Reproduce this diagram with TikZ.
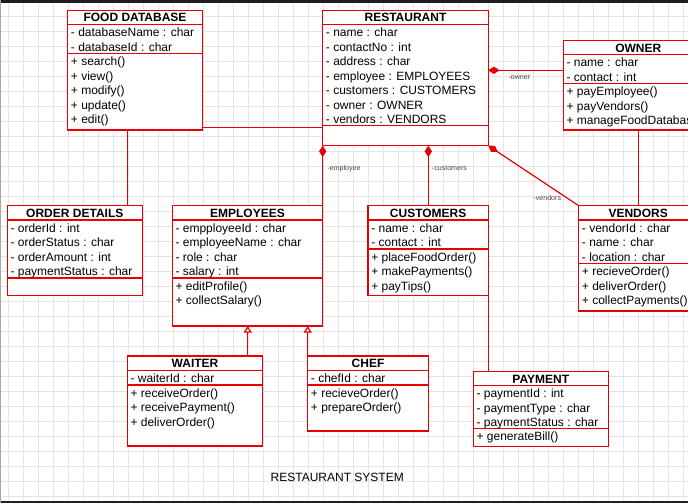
\documentclass[tikz,border=0pt]{standalone}
\usepackage{fontspec}
\setmainfont{Liberation Sans}
\usetikzlibrary{arrows.meta}
\definecolor{rline}{RGB}{230,0,0}
\definecolor{gridc}{RGB}{228,228,228}
\definecolor{lblc}{RGB}{70,70,70}
\definecolor{bandc}{RGB}{30,30,30}
\tikzset{
  cls/.style={draw=rline, line width=0.9pt, fill=white, inner sep=0pt, outer sep=0pt, rectangle},
  rl/.style={draw=rline, line width=0.9pt},
  hdr/.style={anchor=base, inner sep=0pt, font=\fontsize{9}{10}\selectfont\bfseries},
  txt/.style={anchor=base west, inner sep=0pt, font=\fontsize{9}{10}\selectfont},
  lbl/.style={anchor=west, inner sep=0pt, text=lblc, font=\fontsize{5.3}{6}\selectfont},
  diam/.style={rl, {Diamond[length=8.5pt,width=5.5pt]}-},
  inh/.style={rl, -{Triangle[open,length=5pt,width=6pt,fill=white]}},
}
\newcommand\umlclass[8]{%
  \node[cls, minimum width={(#4-#2)*0.75pt}, minimum height={(#5-#3)*0.75pt}] (#1) at ({(#2+#4)/2},{(#3+#5)/2}) {};
  \draw[rl] (#2,#6) -- (#4,#6);
  \draw[rl] (#2,#7) -- (#4,#7);
  \node[hdr] (#1-title) at ({(#2+#4)/2},{#3+11.6}) {#8};
}
\newcommand\umllines[4]{%
  \foreach \t [count=\i from 0] in {#4} {
    \node[txt] (#1-\i) at ({#2+3},{#3+12.2+14.5*\i}) {\t};
  }
}
\begin{document}
\begin{tikzpicture}[x=0.75pt,y=-0.75pt]
\useasboundingbox (0,0) rectangle (688,503);
\clip (0,0) rectangle (688,503);
\fill[white] (0,0) rectangle (688,503);
% grid
\foreach \gx in {0,...,45} { \draw[gridc, line width=0.75pt] ({8.3+15*\gx},0) -- ({8.3+15*\gx},503); }
\foreach \gy in {0,...,33} { \draw[gridc, line width=0.75pt] (0,{1.7+15*\gy}) -- (688,{1.7+15*\gy}); }
\fill[bandc] (0,0) rectangle (688,3);
\fill[bandc] (0,500.5) rectangle (688,503);
\fill[gray!70] (0,0) rectangle (1,503);

% classes
\umlclass{fooddb}{67.7}{10.3}{202.3}{130}{24.3}{53.3}{FOOD DATABASE}
\umllines{fooddb-a}{67.7}{24.3}{- databaseName : char, - databaseId : char}
\umllines{fooddb-m}{67.7}{53.3}{+ search(), + view(), + modify(), + update(), + edit()}

\umlclass{rest}{322.7}{10.3}{488.3}{145.7}{24.3}{125.7}{RESTAURANT}
\umllines{rest-a}{322.7}{24.3}{- name : char, - contactNo : int, - address : char, - employee : EMPLOYEES, - customers : CUSTOMERS, - owner : OWNER, - vendors : VENDORS}

\umlclass{owner}{563.3}{40.7}{713.3}{130}{54.3}{83.3}{OWNER}
\umllines{owner-a}{563.3}{54.3}{- name : char, - contact : int}
\umllines{owner-m}{563.3}{83.3}{+ payEmployee(), + payVendors(), + manageFoodDatabase()}

\umlclass{orderdet}{7.3}{205.7}{142.3}{295.7}{220}{278}{ORDER DETAILS}
\umllines{orderdet-a}{7.3}{220}{- orderId : int, - orderStatus : char, - orderAmount : int, - paymentStatus : char}

\umlclass{employees}{172.3}{205.7}{322.7}{326}{220}{278}{EMPLOYEES}
\umllines{employees-a}{172.3}{220}{- empployeeId : char, - employeeName : char, - role : char, - salary : int}
\umllines{employees-m}{172.3}{278}{+ editProfile(), + collectSalary()}

\umlclass{customers}{368}{205.7}{488.3}{295.7}{220}{249}{CUSTOMERS}
\umllines{customers-a}{368}{220}{- name : char, - contact : int}
\umllines{customers-m}{368}{249}{+ placeFoodOrder(), + makePayments(), + payTips()}

\umlclass{vendors}{578.7}{205.7}{697.7}{311}{220}{263.3}{VENDORS}
\umllines{vendors-a}{578.7}{220}{- vendorId : char, - name : char, - location : char}
\umllines{vendors-m}{578.7}{263.3}{+ recieveOrder(), + deliverOrder(), + collectPayments()}

\umlclass{waiter}{127.3}{356}{262.7}{446}{370.7}{385}{WAITER}
\umllines{waiter-a}{127.3}{370.7}{- waiterId : char}
\umllines{waiter-m}{127.3}{385}{+ receiveOrder(), + receivePayment(), + deliverOrder()}

\umlclass{chef}{307.7}{356}{428.3}{431}{370.7}{385}{CHEF}
\umllines{chef-a}{307.7}{370.7}{- chefId : char}
\umllines{chef-m}{307.7}{385}{+ recieveOrder(), + prepareOrder()}

\umlclass{payment}{473.3}{371.7}{608.3}{446.3}{385.7}{428.7}{PAYMENT}
\umllines{payment-a}{473.3}{385.7}{- paymentId : int, - paymentType : char, - paymentStatus : char}
\umllines{payment-m}{473.3}{428.7}{+ generateBill()}

% connector guides
\coordinate (gFD) at (127.3,0);
\coordinate (gFR) at (0,127.7);
\coordinate (gOW) at (0,70.3);
\coordinate (gOV) at (638.3,0);
\coordinate (gCU) at (428.3,0);
\coordinate (gWA) at (247.7,0);

% connectors
\draw[rl] (fooddb.south -| gFD) -- (orderdet.north -| gFD);
\draw[rl] (fooddb.east |- gFR) -- (rest.west |- gFR);
\draw[diam] (rest.east |- gOW) -- (owner.west |- gOW);
\draw[rl] (owner.south -| gOV) -- (vendors.north -| gOV);
\draw[diam] (rest.south west) -- (rest.south west |- employees.north);
\draw[diam] (rest.south -| gCU) -- (customers.north -| gCU);
\draw[diam] (rest.south east) -- (vendors.north west);
\draw[rl] (customers.south east) -- (customers.south east |- payment.north);
\draw[inh] (waiter.north -| gWA) -- (employees.south -| gWA);
\draw[inh] (chef.north west) -- (chef.north west |- employees.south);

% labels
\node[lbl] (l-owner) at (508.3,78) {-owner};
\node[lbl] (l-emp) at (327.3,168.3) {-employee};
\node[lbl] (l-cust) at (431.7,168.3) {-customers};
\node[lbl] (l-vend) at (533.3,198.3) {-vendors};

\node[anchor=base, inner sep=0pt, font=\fontsize{9}{10}\selectfont] (title) at (337.2,481) {RESTAURANT SYSTEM};
\end{tikzpicture}
\end{document}
